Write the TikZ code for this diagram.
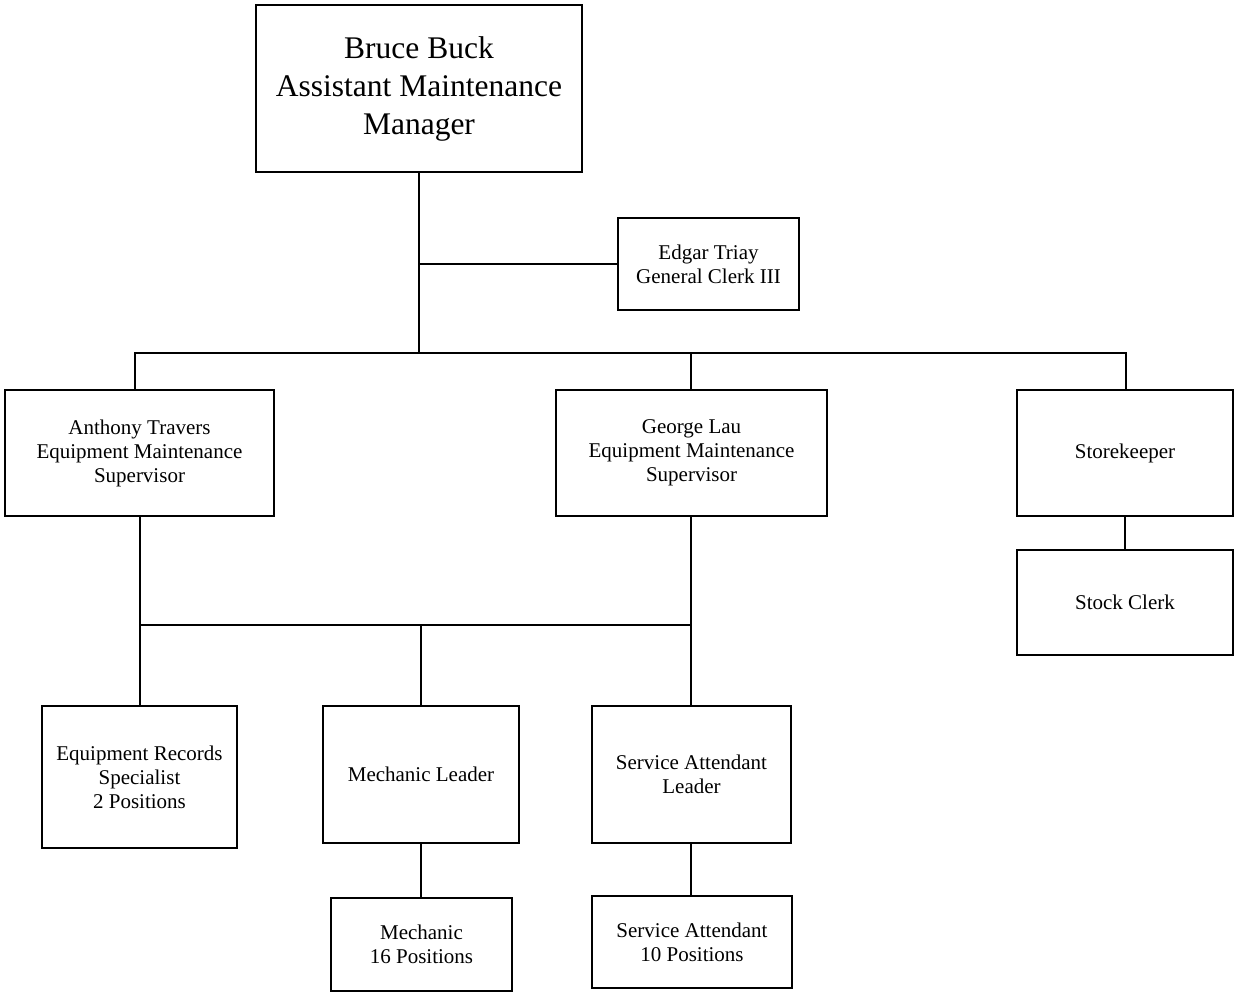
\documentclass[tikz,border=0pt]{standalone}
\usepackage{fontspec}
\setmainfont{Liberation Serif}
\begin{document}
\begin{tikzpicture}[x=1pt,y=-1pt,
  box/.style={draw,line width=2pt,inner sep=0pt,align=center,font=\fontsize{21}{24}\selectfont},
  conn/.style={line width=2pt}]
\useasboundingbox[fill=white] (0,0) rectangle (1234,993);
\node[box,minimum width=326pt,minimum height=167pt,font=\fontsize{31.5}{38}\selectfont] (top) at (419,88.5) {Bruce Buck\\Assistant Maintenance\\Manager};
\node[box,minimum width=181pt,minimum height=92pt] (edgar) at (708.5,264) {Edgar Triay\\General Clerk III};
\node[box,minimum width=269pt,minimum height=126pt] (anth) at (139.5,453) {Anthony Travers\\Equipment Maintenance\\Supervisor};
\node[box,minimum width=271pt,minimum height=126pt] (george) at (691.5,453) {George Lau\\Equipment Maintenance\\Supervisor};
\node[box,minimum width=216pt,minimum height=126pt] (store) at (1125,453) {Storekeeper};
\node[box,minimum width=216pt,minimum height=105pt] (stock) at (1125,602.5) {Stock Clerk};
\node[box,minimum width=195pt,minimum height=142pt] (rec) at (139.5,777) {Equipment Records\\Specialist\\2 Positions};
\node[box,minimum width=196pt,minimum height=137pt] (mechl) at (421,774.5) {Mechanic Leader};
\node[box,minimum width=199pt,minimum height=137pt] (servl) at (691.5,774.5) {Service Attendant\\Leader};
\node[box,minimum width=181pt,minimum height=93pt] (mech) at (421.5,944.5) {Mechanic\\16 Positions};
\node[box,minimum width=200pt,minimum height=92pt] (serv) at (692,942) {Service Attendant\\10 Positions};
% junctions
\coordinate (b0) at (419,353);
\coordinate (bA) at (135,353);
\coordinate (bG) at (691,353);
\coordinate (bS) at (1126,353);
\coordinate (m0) at (421,625);
\coordinate (mA) at (140,625);
\coordinate (mG) at (691,625);
\coordinate (s0) at (1125,500);
\draw[conn] (top.south) -- (b0);
\draw[conn] (edgar.west) -- (edgar.west -| top.south);
\draw[conn] (bA |- anth.north) -- (bA) -- (bS) -- (bS |- store.north);
\draw[conn] (bG) -- (bG |- george.north);
\draw[conn] (store.south) -- (stock.north);
\draw[conn] (mA |- anth.south) -- (mA |- rec.north);
\draw[conn] (mG |- george.south) -- (mG |- servl.north);
\draw[conn] (mA) -- (mG);
\draw[conn] (m0) -- (m0 |- mechl.north);
\draw[conn] (m0 |- mechl.south) -- (m0 |- mech.north);
\draw[conn] (mG |- servl.south) -- (mG |- serv.north);
\end{tikzpicture}
\end{document}
